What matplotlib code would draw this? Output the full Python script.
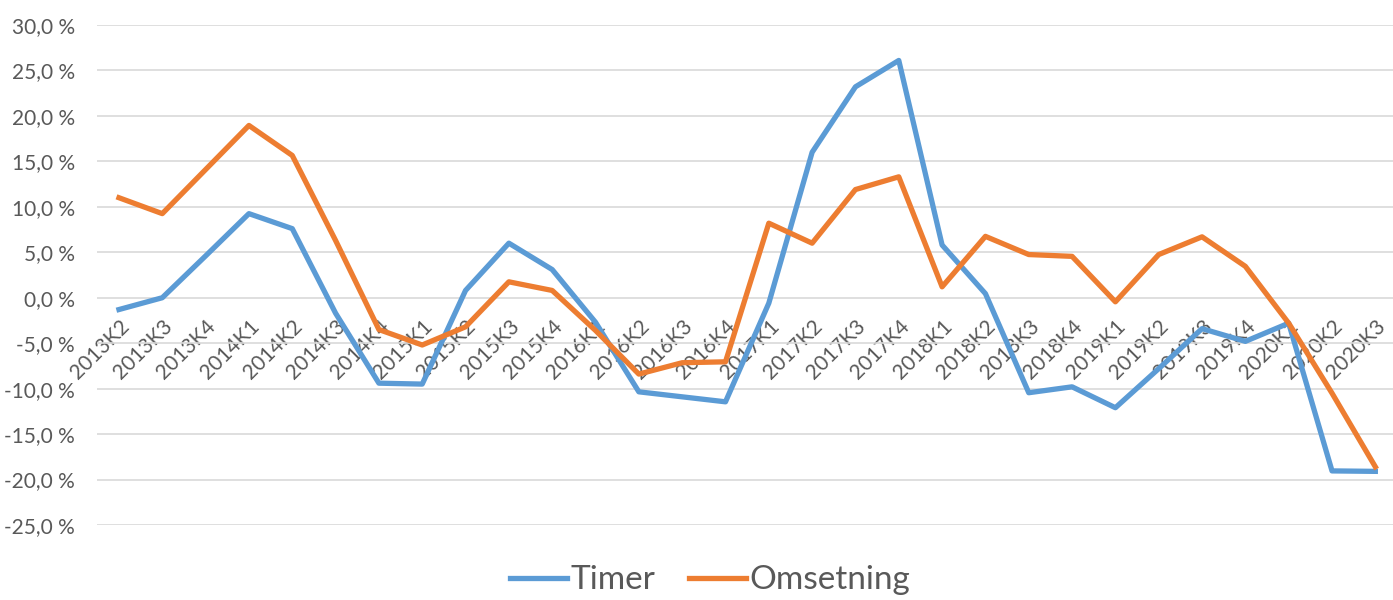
import matplotlib.pyplot as plt
from matplotlib.ticker import FuncFormatter

quarters = [
    "2013K2", "2013K3", "2013K4",
    "2014K1", "2014K2", "2014K3", "2014K4",
    "2015K1", "2015K2", "2015K3", "2015K4",
    "2016K1", "2016K2", "2016K3", "2016K4",
    "2017K1", "2017K2", "2017K3", "2017K4",
    "2018K1", "2018K2", "2018K3", "2018K4",
    "2019K1", "2019K2", "2019K3", "2019K4",
    "2020K1", "2020K2", "2020K3",
]
timer = [
    -1.3, 0.0, 4.6,
    9.25, 7.6, -1.7, -9.4,
    -9.5, 0.8, 6.0, 3.1,
    -2.7, -10.35, -10.9, -11.45,
    -0.6, 16.0, 23.2, 26.1,
    5.8, 0.45, -10.45, -9.8,
    -12.1, -7.8, -3.4, -4.8,
    -2.8, -19.05, -19.1,
]
omsetning = [
    11.0, 9.25, 14.1,
    18.95, 15.65, 6.3, -3.5,
    -5.2, -3.2, 1.75, 0.8,
    -3.6, -8.4, -7.15, -7.05,
    8.2, 6.0, 11.9, 13.3,
    1.2, 6.75, 4.75, 4.55,
    -0.45, 4.75, 6.7, 3.45,
    -2.8, -10.5, -18.6,
]

text_color = "#595959"
font = ["Lato", "DejaVu Sans"]
plt.rcParams["font.family"] = font

fig = plt.figure(figsize=(13.93, 6.0), dpi=100)
ax = fig.add_axes([97.3 / 1393, 75 / 600, 1299.7 / 1393, 500 / 600])

xs = list(range(len(quarters)))
ax.plot(xs, timer, color="#5B9BD5", lw=3.8, label="Timer", solid_joinstyle="round")
ax.plot(xs, omsetning, color="#ED7D31", lw=3.8, label="Omsetning", solid_joinstyle="round")

ax.set_xlim(-0.5, len(quarters) - 0.5)
ax.set_ylim(-25, 30)
ax.set_yticks(range(-25, 31, 5))
ax.yaxis.set_major_formatter(FuncFormatter(lambda v, _: f"{v:.1f} %".replace(".", ",")))
ax.grid(axis="y", color="#D9D9D9", lw=1.2)
ax.set_axisbelow(True)
for s in ax.spines.values():
    s.set_visible(False)

# category labels sit under the zero line
ax.spines["bottom"].set_position(("data", 0))
ax.set_xticks(xs)
ax.set_xticklabels(quarters, rotation=45, ha="right", rotation_mode="anchor",
                   fontsize=15, color=text_color)
ax.tick_params(axis="x", length=0, pad=13)
ax.tick_params(axis="y", length=0, pad=16, labelsize=15, labelcolor=text_color)

# legend hugs the bottom edge (kept just inside the canvas)
fig.legend(loc="center", bbox_to_anchor=(0.51, 0.033), ncol=2, frameon=False,
           fontsize=24, handlelength=1.7, handletextpad=0.12, columnspacing=1.0,
           labelcolor=text_color)

fig.savefig("out.png", dpi=100)
